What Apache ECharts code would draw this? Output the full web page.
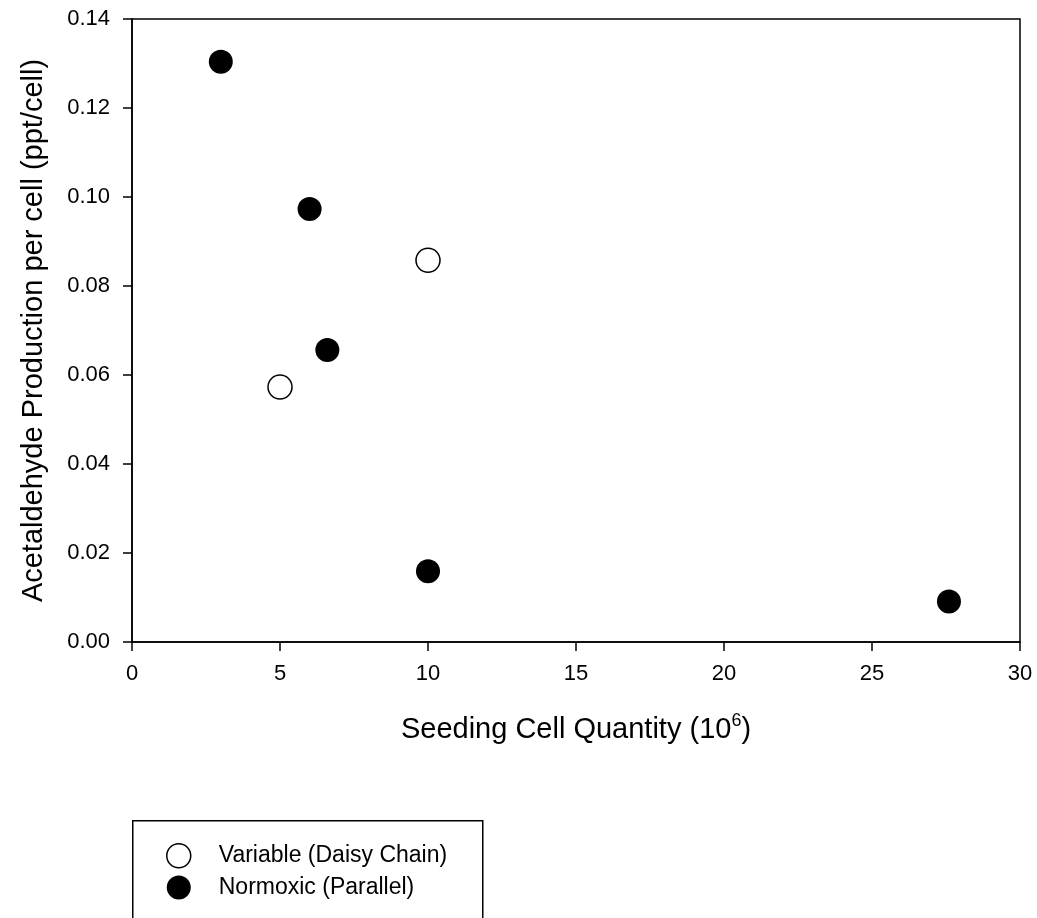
<!DOCTYPE html>
<html>
<head>
<meta charset="utf-8">
<script src="https://cdn.jsdelivr.net/npm/echarts@6/dist/echarts.min.js"></script>
<style>
html,body{margin:0;padding:0;background:#fff;}
#c{width:1037px;height:918px;}
</style>
</head>
<body>
<div id="c"></div>
<script>
// Data
const seriesNames = ['Variable (Daisy Chain)', 'Normoxic (Parallel)'];
const variableX = [5, 10];
const variableY = [0.0573, 0.0858];
const normoxicX = [3, 6, 6.6, 10, 27.6];
const normoxicY = [0.1304, 0.0973, 0.0656, 0.0159, 0.0091];
const xTicks = [0, 5, 10, 15, 20, 25, 30];
const yTicks = [0.00, 0.02, 0.04, 0.06, 0.08, 0.10, 0.12, 0.14];

const FONT = '"Liberation Sans", Arial, sans-serif';
const pair = (xs, ys) => xs.map((x, i) => [x, ys[i]]);

const chart = echarts.init(document.getElementById('c'), null, {renderer: 'canvas'});
chart.setOption({
  animation: false,
  backgroundColor: '#ffffff',
  grid: {left: 132, right: 17, top: 19, bottom: 276, containLabel: false,
         show: true, borderColor: '#000', borderWidth: 1.5, backgroundColor: 'transparent'},
  graphic: [{
    type: 'rect', left: 132, top: 820, z: 0,
    shape: {width: 350, height: 120},
    style: {fill: '#fff', stroke: '#000', lineWidth: 1.5}
  }],
  xAxis: {
    type: 'value', min: xTicks[0], max: xTicks[xTicks.length - 1], interval: 5,
    axisLine: {show: true, onZero: false, lineStyle: {color: '#000', width: 1.5}},
    axisTick: {show: true, inside: false, length: 9, lineStyle: {color: '#000', width: 1.5}},
    splitLine: {show: false},
    axisLabel: {color: '#000', fontFamily: FONT, fontSize: 22, margin: 21},
    name: '{t|Seeding Cell Quantity (10}{s|6}{t|)}',
    nameLocation: 'middle', nameGap: 70,
    nameTextStyle: {rich: {
      t: {fontFamily: FONT, fontSize: 29, color: '#000', verticalAlign: 'bottom', lineHeight: 32},
      s: {fontFamily: FONT, fontSize: 18, color: '#000', verticalAlign: 'top', lineHeight: 32, padding: [0, 0, 14, 0]}
    }}
  },
  yAxis: {
    type: 'value', min: yTicks[0], max: yTicks[yTicks.length - 1], interval: 0.02,
    axisLine: {show: true, onZero: false, lineStyle: {color: '#000', width: 1.5}},
    axisTick: {show: true, inside: false, length: 9, lineStyle: {color: '#000', width: 1.5}},
    splitLine: {show: false},
    axisLabel: {color: '#000', fontFamily: FONT, fontSize: 22, margin: 22,
                formatter: v => v.toFixed(2)},
    name: 'Acetaldehyde Production per cell (ppt/cell)',
    nameLocation: 'middle', nameGap: 84,
    nameTextStyle: {fontFamily: FONT, fontSize: 29, color: '#000'}
  },
  legend: {
    orient: 'vertical', left: 166, top: 843,
    padding: 0, itemGap: 7, itemWidth: 24, itemHeight: 24,
    textStyle: {fontFamily: FONT, fontSize: 23, color: '#000', padding: [0, 0, 0, 23]},
    data: [
      {name: seriesNames[0], icon: 'circle', itemStyle: {color: '#fff', borderColor: '#000', borderWidth: 1.5}},
      {name: seriesNames[1], icon: 'circle', itemStyle: {color: '#000', borderColor: '#000', borderWidth: 0}}
    ]
  },
  series: [
    {name: seriesNames[0], type: 'scatter', symbol: 'circle', symbolSize: 24,
     itemStyle: {color: '#fff', borderColor: '#000', borderWidth: 1.5, opacity: 1},
     data: pair(variableX, variableY), z: 3},
    {name: seriesNames[1], type: 'scatter', symbol: 'circle', symbolSize: 24,
     itemStyle: {color: '#000', borderColor: '#000', borderWidth: 0, opacity: 1},
     data: pair(normoxicX, normoxicY), z: 4}
  ]
});
</script>
</body>
</html>
